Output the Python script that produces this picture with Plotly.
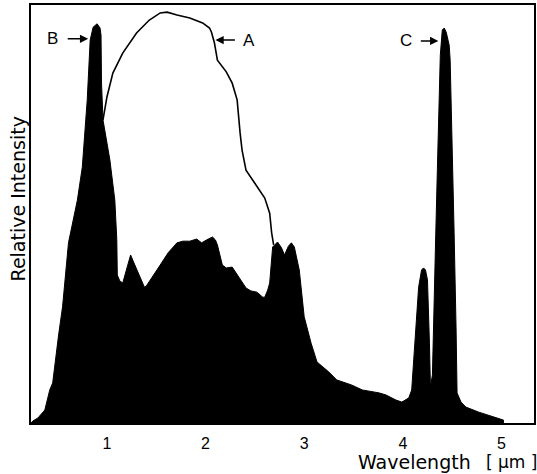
import plotly.graph_objects as go

# Filled spectrum (wavelength in um, relative intensity in % of full scale)
wl_total = [0.23, 0.25, 0.30, 0.37, 0.42, 0.45, 0.51, 0.55, 0.61, 0.70, 0.75, 0.80,
            0.83, 0.86, 0.90, 0.93, 0.94, 0.945, 0.96, 1.03, 1.08, 1.10, 1.105, 1.13,
            1.16, 1.20, 1.24, 1.27, 1.33, 1.38, 1.40, 1.45, 1.54, 1.62, 1.71, 1.77,
            1.84, 1.91, 1.96, 2.01, 2.07, 2.10, 2.12, 2.17, 2.21, 2.27, 2.34, 2.41,
            2.46, 2.52, 2.58, 2.60, 2.63, 2.65, 2.68, 2.73, 2.77, 2.80, 2.84, 2.87,
            2.90, 2.95, 3.00, 3.07, 3.13, 3.25, 3.33, 3.48, 3.59, 3.76, 3.83, 3.93,
            3.99, 4.06, 4.09, 4.13, 4.16, 4.19, 4.21, 4.23, 4.25, 4.27, 4.28, 4.30,
            4.31, 4.33, 4.35, 4.36, 4.38, 4.40, 4.42, 4.44, 4.47, 4.48, 4.49, 4.52,
            4.54, 4.55, 4.59, 4.64, 4.77, 4.94, 5.02, 5.02]
int_total = [0.0, 0.5, 1.2, 3.1, 7.9, 9.6, 21.1, 27.8, 43.1, 53.3, 61.2, 77.3,
             91.6, 94.7, 95.5, 94.5, 92.8, 81.3, 72.5, 62.9, 53.3, 43.8, 35.4, 34.0,
             33.5, 36.6, 40.2, 38.5, 35.4, 32.5, 32.8, 34.7, 37.8, 40.7, 43.1, 43.5,
             43.5, 44.0, 43.1, 43.8, 44.5, 43.8, 42.6, 37.8, 37.1, 37.3, 34.7, 32.3,
             31.6, 31.3, 30.1, 30.1, 31.8, 33.5, 42.1, 43.3, 41.9, 40.2, 42.3, 43.1,
             42.1, 36.6, 25.4, 19.1, 14.6, 12.2, 10.3, 9.1, 7.9, 7.2, 6.7, 5.5,
             5.0, 6.0, 7.9, 23.0, 32.5, 36.6, 37.1, 36.6, 34.2, 19.1, 8.6, 11.5,
             19.9, 41.4, 60.5, 69.4, 88.0, 94.0, 94.5, 93.5, 90.4, 86.8, 77.5, 45.5,
             22.5, 7.2, 5.0, 3.8, 2.6, 1.4, 0.7, 0.0]

# Outline spectrum A
wl_A = [0.96, 1.00, 1.06, 1.16, 1.30, 1.43, 1.54, 1.61, 1.71, 1.84, 1.97, 2.04,
        2.06, 2.09, 2.12, 2.21, 2.27, 2.32, 2.35, 2.37, 2.41, 2.52, 2.60, 2.65,
        2.67, 2.69]
int_A = [72.5, 78.0, 83.7, 88.5, 93.3, 96.4, 98.1, 98.3, 97.6, 96.9, 95.7, 94.5,
         93.5, 90.9, 86.8, 84.0, 81.3, 77.3, 69.4, 65.3, 60.5, 56.5, 53.8, 50.2,
         45.5, 42.6]

tick_vals = [1, 2, 3, 4, 5]
tick_text = ["1", "2", "3", "4", "5"]

FONT = "Liberation Sans, Arial, Helvetica, sans-serif"

fig = go.Figure()
fig.add_trace(go.Scatter(x=wl_total, y=int_total, mode="lines", fill="tozeroy",
                         fillcolor="black", line=dict(color="black", width=1),
                         hoverinfo="skip"))
fig.add_trace(go.Scatter(x=wl_A, y=int_A, mode="lines",
                         line=dict(color="black", width=1.6), hoverinfo="skip"))

fig.update_layout(
    width=537, height=474,
    margin=dict(l=31, r=1, t=5, b=51),
    plot_bgcolor="white", paper_bgcolor="white",
    showlegend=False,
    font=dict(family=FONT, color="black"),
)
fig.update_xaxes(range=[0.23, 5.33], showgrid=False, zeroline=False,
                 showline=True, mirror=True, linecolor="black", linewidth=2,
                 tickvals=tick_vals, ticktext=tick_text, ticks="outside",
                 ticklen=5, tickcolor="rgba(0,0,0,0)",
                 tickfont=dict(size=16, family=FONT, color="black"))
fig.update_yaxes(range=[0, 100], showgrid=False, zeroline=False,
                 showline=True, mirror=True, linecolor="black", linewidth=2,
                 showticklabels=False, ticks="")

labels = [("B", 0.45, 91.9), ("A", 2.44, 91.6), ("C", 4.03, 91.4)]
for t, x, y in labels:
    fig.add_annotation(x=x, y=y, xref="x", yref="y", text=t, showarrow=False,
                       xanchor="center", yanchor="middle",
                       font=dict(size=17, family=FONT, color="black"))

arrows = [(0.81, 91.9, -22), (2.10, 91.6, 21), (4.36, 91.4, -19)]
for x, y, ax in arrows:
    fig.add_annotation(x=x, y=y, xref="x", yref="y", text="", showarrow=True,
                       ax=ax, ay=0, arrowhead=2, arrowsize=1.1, arrowwidth=1.5,
                       arrowcolor="black", standoff=0, startstandoff=0)

fig.add_annotation(x=0.763, y=-0.093, xref="paper", yref="paper", text="Wavelength",
                   showarrow=False, xanchor="center", yanchor="middle",
                   font=dict(size=19, family="DejaVu Sans", color="black"))
fig.add_annotation(x=0.955, y=-0.093, xref="paper", yref="paper", text="[ µm ]",
                   showarrow=False, xanchor="center", yanchor="middle",
                   font=dict(size=17, family="DejaVu Sans", color="black"))
fig.add_annotation(x=-0.026, y=0.537, xref="paper", yref="paper", text="Relative Intensity",
                   textangle=-90, showarrow=False, xanchor="center", yanchor="middle",
                   font=dict(size=19, family="DejaVu Sans", color="black"))

fig.write_html("out.html")
